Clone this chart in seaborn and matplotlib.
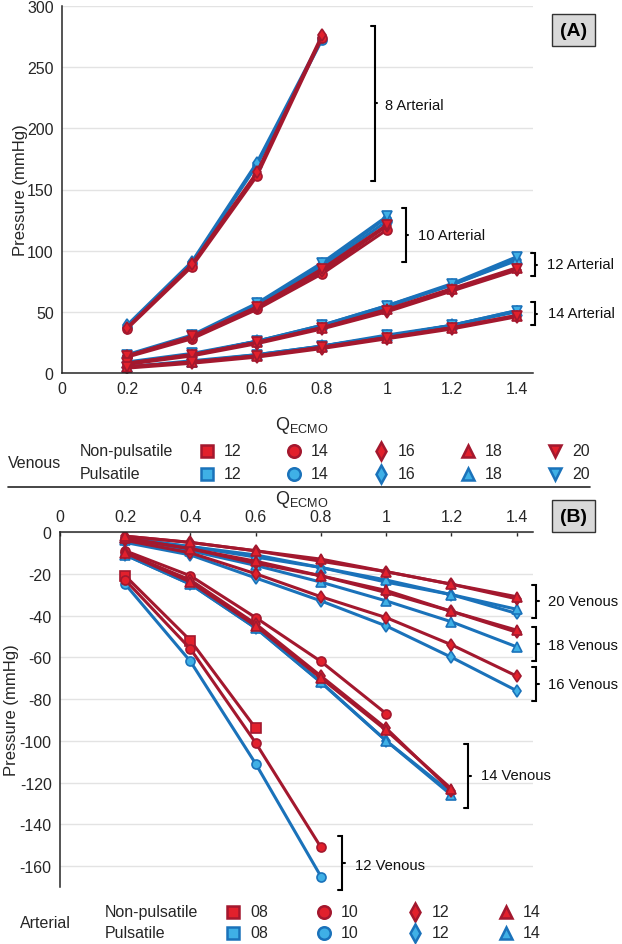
import matplotlib
matplotlib.use('Agg')
import matplotlib.pyplot as plt
from matplotlib.lines import Line2D
import pandas as pd
import seaborn as sns

# ECMO flow (x) and tick labels
Q = [0.2, 0.4, 0.6, 0.8, 1.0, 1.2, 1.4]
Q_TICKS = [0, 0.2, 0.4, 0.6, 0.8, 1.0, 1.2, 1.4]
Q_LABELS = ['0', '0.2', '0.4', '0.6', '0.8', '1', '1.2', '1.4']

# (A) arterial pressure, grouped by arterial cannula; rows = venous cannula size
ART08_NP_VEN = [14, 16]
ART08_NP = [[36, 87, 161, 274], [37, 89, 164, 276]]
ART08_P_VEN = [14, 16]
ART08_P = [[38, 90, 170, 272], [39, 91, 172, 274]]

ART10_NP_VEN = [14, 16, 20]
ART10_NP = [[13, 28, 52, 81, 117], [14, 29, 53, 83, 120], [14, 30, 54, 85, 121]]
ART10_P_VEN = [14, 16, 20]
ART10_P = [[14, 30, 55, 87, 124], [14, 30, 56, 89, 127], [15, 31, 57, 90, 128]]

ART12_NP_VEN = [16, 18, 20]
ART12_NP = [[7, 14, 24, 36, 50, 67, 84], [8, 15, 25, 37, 52, 69, 86], [8, 15, 25, 37, 51, 68, 85]]
ART12_P_VEN = [16, 18, 20]
ART12_P = [[8, 15, 26, 38, 54, 72, 92], [8, 15, 26, 39, 55, 72, 93], [9, 16, 26, 39, 55, 73, 95]]

ART14_NP_VEN = [16, 18, 20]
ART14_NP = [[4, 8, 13, 20, 28, 36, 46], [5, 9, 14, 21, 29, 37, 47], [5, 9, 14, 21, 29, 37, 47]]
ART14_P_VEN = [16, 18, 20]
ART14_P = [[5, 9, 14, 22, 30, 39, 50], [5, 9, 15, 22, 30, 39, 51], [5, 10, 15, 22, 31, 39, 51]]

# (B) venous pressure, grouped by venous cannula; rows = arterial cannula size
VEN12_NP_ART = [8, 10]
VEN12_NP = [[-21, -52, -94], [-23, -56, -101, -151]]
VEN12_P_ART = [10]
VEN12_P = [[-25, -62, -111, -165]]

VEN14_NP_ART = [10, 12, 14]
VEN14_NP = [[-9, -21, -41, -62, -87], [-10, -23, -44, -69, -94, -124], [-10, -24, -45, -70, -95, -123]]
VEN14_P_ART = [12, 14]
VEN14_P = [[-11, -25, -46, -72, -100, -125], [-11, -25, -46, -72, -100, -126]]

VEN16_NP_ART = [12]
VEN16_NP = [[-4, -10, -20, -31, -41, -54, -69]]
VEN16_P_ART = [12]
VEN16_P = [[-5, -11, -22, -33, -45, -60, -76]]

VEN18_NP_ART = [12, 14]
VEN18_NP = [[-3, -8, -15, -21, -29, -38, -48], [-3, -8, -14, -21, -28, -38, -47]]
VEN18_P_ART = [14]
VEN18_P = [[-4, -9, -16, -24, -33, -43, -55]]

VEN20_NP_ART = [12, 14]
VEN20_NP = [[-2, -5, -9, -14, -19, -25, -32], [-2, -5, -9, -13, -19, -25, -31]]
VEN20_P_ART = [12, 14]
VEN20_P = [[-3, -7, -12, -17, -24, -30, -39], [-3, -7, -11, -17, -23, -30, -37]]

VENOUS_KEYS = [12, 14, 16, 18, 20]
ARTERIAL_KEYS = [8, 10, 12, 14]
ARTERIAL_LABELS = ['08', '10', '12', '14']

RED_LINE, RED_FACE = '#a3182e', '#e2202c'
BLUE_LINE, BLUE_FACE = '#1a72ba', '#3fb0e6'

rows = []


def add(panel, group, mode, sizes, values):
    for size, vals in zip(sizes, values):
        for q, p in zip(Q, vals):
            rows.append({'panel': panel, 'series': f'{panel}{group}{mode}{size}',
                         'mode': mode, 'size': size, 'Q': q, 'P': p})


add('A', 8, 'NP', ART08_NP_VEN, ART08_NP)
add('A', 8, 'P', ART08_P_VEN, ART08_P)
add('A', 10, 'NP', ART10_NP_VEN, ART10_NP)
add('A', 10, 'P', ART10_P_VEN, ART10_P)
add('A', 12, 'NP', ART12_NP_VEN, ART12_NP)
add('A', 12, 'P', ART12_P_VEN, ART12_P)
add('A', 14, 'NP', ART14_NP_VEN, ART14_NP)
add('A', 14, 'P', ART14_P_VEN, ART14_P)
add('B', 12, 'NP', VEN12_NP_ART, VEN12_NP)
add('B', 12, 'P', VEN12_P_ART, VEN12_P)
add('B', 14, 'NP', VEN14_NP_ART, VEN14_NP)
add('B', 14, 'P', VEN14_P_ART, VEN14_P)
add('B', 16, 'NP', VEN16_NP_ART, VEN16_NP)
add('B', 16, 'P', VEN16_P_ART, VEN16_P)
add('B', 18, 'NP', VEN18_NP_ART, VEN18_NP)
add('B', 18, 'P', VEN18_P_ART, VEN18_P)
add('B', 20, 'NP', VEN20_NP_ART, VEN20_NP)
add('B', 20, 'P', VEN20_P_ART, VEN20_P)
df = pd.DataFrame(rows)

sns.set_theme(style='white')
plt.rcParams['font.family'] = ['Liberation Sans', 'DejaVu Sans']
plt.rcParams['mathtext.fontset'] = 'custom'
plt.rcParams['mathtext.rm'] = 'Liberation Sans'
plt.rcParams['mathtext.it'] = 'Liberation Sans'
plt.rcParams['axes.unicode_minus'] = False
FS = 11.5
FS_NOTE = 10.6
INK = '#262626'

markers_A = {12: 's', 14: 'o', 16: 'd', 18: '^', 20: 'v'}
markers_B = {8: 's', 10: 'o', 12: 'd', 14: '^'}

fig = plt.figure(figsize=(6.22, 9.45), dpi=100)
W, H = 622, 945


def px_axes(l, t, r, b):
    return fig.add_axes([l / W, 1 - b / H, (r - l) / W, (b - t) / H])


axA = px_axes(62, 7, 533, 374)
axB = px_axes(60, 533, 533, 888)


def draw(ax, panel, markers):
    sub = df[df['panel'] == panel]
    # pulsatile first so the non-pulsatile (red) lines sit on top
    for mode, line_c, face_c in [('P', BLUE_LINE, BLUE_FACE), ('NP', RED_LINE, RED_FACE)]:
        d = sub[sub['mode'] == mode]
        sns.lineplot(data=d, x='Q', y='P', style='size', units='series', estimator=None,
                     markers=markers, dashes=False, color=line_c, lw=2.2,
                     markersize=6.5, markerfacecolor=face_c, markeredgecolor=line_c,
                     markeredgewidth=1.2, legend=False, ax=ax)
    ax.set_xlim(0, 1.45)
    ax.set_xticks(Q_TICKS)
    ax.set_xticklabels(Q_LABELS)
    ax.grid(axis='y', color='#e3e3e3', lw=1)
    ax.grid(axis='x', visible=False)
    ax.tick_params(direction='in', length=3, width=1, color=INK, labelsize=FS,
                   labelcolor=INK, pad=6)
    ax.set_xlabel('')
    ax.set_ylabel('Pressure (mmHg)', fontsize=FS + 0.5, color=INK)
    for s in ax.spines.values():
        s.set_color(INK)
        s.set_linewidth(1.1)


draw(axA, 'A', markers_A)
axA.set_ylim(0, 300)
axA.set_yticks(range(0, 301, 50))
axA.spines['top'].set_visible(False)
axA.spines['right'].set_visible(False)
axA.yaxis.set_label_coords((28 - 62) / 471, 0.5)

draw(axB, 'B', markers_B)
axB.set_ylim(-170, 0)
axB.set_yticks(range(-160, 1, 20))
axB.xaxis.tick_top()
axB.spines['bottom'].set_visible(False)
axB.spines['right'].set_visible(False)
axB.yaxis.set_label_coords((19 - 60) / 473, 0.5)


def bracket(ax, x, y0, y1, text, tx, ty, dx, dm):
    ax.plot([x - dx, x, x, x - dx], [y0, y0, y1, y1], color='black', lw=1.5,
            clip_on=False, solid_joinstyle='miter')
    ym = (y0 + y1) / 2
    ax.plot([x, x + dm], [ym, ym], color='black', lw=1.5, clip_on=False)
    ax.text(tx, ty, text, fontsize=FS_NOTE, va='center', ha='left', color='#111111')


bracket(axA, 0.963, 157, 284, '8 Arterial', 0.995, 219, 0.012, 0.008)
bracket(axA, 1.058, 91, 135, '10 Arterial', 1.095, 113, 0.012, 0.008)
bracket(axA, 1.455, 79, 98, '12 Arterial', 1.492, 89, 0.012, 0.008)
bracket(axA, 1.455, 39, 58, '14 Arterial', 1.495, 49, 0.012, 0.008)

bracket(axB, 1.46, -25.5, -41, '20 Venous', 1.495, -33, 0.012, 0.008)
bracket(axB, 1.46, -45.5, -62, '18 Venous', 1.495, -54, 0.012, 0.008)
bracket(axB, 1.46, -64.5, -81, '16 Venous', 1.495, -73, 0.012, 0.008)
bracket(axB, 1.252, -101.5, -132, '14 Venous', 1.29, -116.5, 0.012, 0.008)
bracket(axB, 0.865, -145.5, -171.5, '12 Venous', 0.905, -159.5, 0.012, 0.008)

# panel tags
for label, yc in [('(A)', 31), ('(B)', 517)]:
    fig.text(573.5 / W, 1 - yc / H, label, fontsize=FS + 2.5, fontweight='bold',
             ha='center', va='center', color='black',
             bbox=dict(boxstyle='square,pad=0.4', fc='#d9d9d9', ec='#333333', lw=1))

# axis titles
fig.text(302 / W, 1 - 426 / H, r'Q$_{\mathrm{ECMO}}$', fontsize=FS + 1.5, ha='center',
         va='center', color=INK)
fig.text(302 / W, 1 - 500 / H, r'Q$_{\mathrm{ECMO}}$', fontsize=FS + 1.5, ha='center',
         va='center', color=INK)

# separator between the two panels
fig.add_artist(Line2D([8 / W, 590 / W], [1 - 488 / H, 1 - 488 / H], color=INK, lw=1.2,
                      transform=fig.transFigure))


def legend_block(keys, labels, markers, title, tx, nx, y_np, y_p, x0, xstep):
    fig.text(tx / W, 1 - (y_np + y_p) / 2 / H, title, fontsize=FS, va='center', color=INK)
    fig.text(nx / W, 1 - y_np / H, 'Non-pulsatile', fontsize=FS, va='center', color=INK)
    fig.text(nx / W, 1 - y_p / H, 'Pulsatile', fontsize=FS, va='center', color=INK)
    for i, (k, lab) in enumerate(zip(keys, labels)):
        xm = x0 + i * xstep
        for y, line_c, face_c in [(y_np, RED_LINE, RED_FACE), (y_p, BLUE_LINE, BLUE_FACE)]:
            fig.add_artist(Line2D([xm / W], [1 - y / H], marker=markers[k], markersize=9,
                                  markerfacecolor=face_c, markeredgecolor=line_c,
                                  markeredgewidth=1.8, linestyle='none',
                                  transform=fig.transFigure))
            fig.text((xm + 17) / W, 1 - y / H, lab, fontsize=FS, va='center', color=INK)


legend_block(VENOUS_KEYS, [str(v) for v in VENOUS_KEYS], markers_A, 'Venous',
             8, 80, 452, 475, 207, 87)
legend_block(ARTERIAL_KEYS, ARTERIAL_LABELS, markers_B, 'Arterial',
             20, 105, 913, 934, 233, 91)

fig.savefig('out.png', dpi=100)
